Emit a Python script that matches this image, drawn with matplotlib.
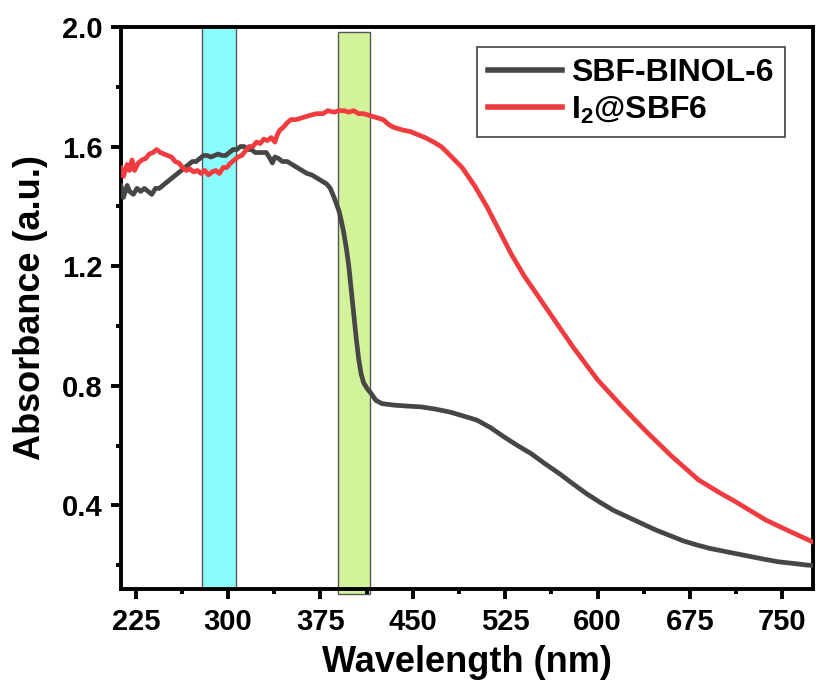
import numpy as np
import matplotlib.pyplot as plt
from matplotlib.patches import Rectangle
from matplotlib.ticker import MultipleLocator

plt.rcParams['font.family'] = ['Liberation Sans', 'DejaVu Sans']
plt.rcParams['font.weight'] = 'bold'
plt.rcParams['mathtext.fontset'] = 'custom'
plt.rcParams['mathtext.rm'] = 'Liberation Sans:bold'
plt.rcParams['mathtext.it'] = 'Liberation Sans:bold'
plt.rcParams['mathtext.bf'] = 'Liberation Sans:bold'

# Data
wl_binol = [210, 213, 215, 218, 220, 223, 226, 229, 232, 235, 238, 241, 244, 247, 250,
            253, 256, 259, 262, 265, 268, 271, 274, 277, 280, 283, 286, 289, 292, 295,
            298, 301, 304, 307, 310, 313, 316, 319, 322, 325, 328, 331, 334, 336, 338,
            341, 344, 348, 352, 356, 360, 364, 368, 372, 376, 380, 383, 386, 390, 392,
            394, 396, 398, 400, 402, 404, 406, 408, 410, 413, 416, 420, 425, 435, 445,
            457, 468, 480, 490, 502, 513, 524, 535, 546, 557, 569, 580, 591, 602, 613,
            625, 636, 647, 658, 669, 680, 691, 703, 714, 725, 736, 747, 760, 770, 780]
abs_binol = [1.44, 1.47, 1.43, 1.47, 1.45, 1.44, 1.46, 1.45, 1.46, 1.45, 1.44, 1.46, 1.46, 1.47, 1.48,
             1.49, 1.50, 1.51, 1.52, 1.53, 1.54, 1.55, 1.55, 1.56, 1.57, 1.57, 1.565, 1.57, 1.575, 1.57,
             1.57, 1.58, 1.59, 1.59, 1.60, 1.60, 1.59, 1.59, 1.58, 1.58, 1.58, 1.58, 1.56, 1.545, 1.565,
             1.56, 1.55, 1.55, 1.54, 1.53, 1.52, 1.51, 1.505, 1.495, 1.485, 1.475, 1.46, 1.43, 1.385, 1.35,
             1.31, 1.26, 1.20, 1.12, 1.04, 0.96, 0.89, 0.84, 0.81, 0.79, 0.775, 0.751, 0.74, 0.735, 0.732,
             0.729, 0.722, 0.712, 0.70, 0.685, 0.66, 0.629, 0.60, 0.573, 0.54, 0.506, 0.472, 0.439, 0.41, 0.383,
             0.36, 0.339, 0.318, 0.30, 0.282, 0.268, 0.256, 0.246, 0.237, 0.228, 0.219, 0.211, 0.205, 0.20, 0.198]

wl_i2 = [210, 213, 215, 218, 220, 222, 224, 227, 230, 233, 236, 239, 242, 245, 248,
         251, 254, 257, 260, 263, 266, 269, 272, 275, 278, 281, 284, 287, 290, 293,
         296, 299, 302, 305, 308, 311, 314, 317, 320, 323, 326, 329, 332, 335, 338,
         340, 342, 345, 348, 351, 355, 359, 363, 367, 372, 377, 381, 386, 390, 394,
         398, 402, 406, 410, 414, 418, 422, 426, 430, 434, 438, 442, 448, 454, 460,
         467, 473, 478, 484, 490, 495, 500, 510, 520, 530, 540, 550, 560, 570, 580,
         590, 600, 620, 640, 660, 682, 700, 710, 737, 755, 775, 780]
abs_i2 = [1.50, 1.53, 1.50, 1.54, 1.52, 1.555, 1.52, 1.545, 1.555, 1.56, 1.575, 1.58, 1.59, 1.58, 1.575,
          1.57, 1.565, 1.55, 1.545, 1.53, 1.52, 1.525, 1.515, 1.52, 1.51, 1.52, 1.505, 1.515, 1.52, 1.51,
          1.53, 1.53, 1.545, 1.555, 1.565, 1.57, 1.585, 1.60, 1.60, 1.615, 1.61, 1.625, 1.62, 1.63, 1.615,
          1.64, 1.655, 1.665, 1.68, 1.69, 1.69, 1.695, 1.70, 1.705, 1.71, 1.71, 1.72, 1.715, 1.72, 1.72,
          1.715, 1.72, 1.71, 1.71, 1.705, 1.70, 1.695, 1.69, 1.675, 1.665, 1.66, 1.655, 1.65, 1.64, 1.63,
          1.615, 1.60, 1.58, 1.555, 1.53, 1.50, 1.47, 1.40, 1.32, 1.24, 1.17, 1.11, 1.05, 0.99, 0.93,
          0.875, 0.82, 0.73, 0.645, 0.565, 0.485, 0.44, 0.417, 0.35, 0.315, 0.277, 0.27]

bands = [(279, 306, '#8afdfd'), (389, 415.5, '#d3f39b')]

fig = plt.figure(figsize=(8.17, 6.88), dpi=100)
ax = fig.add_axes([0.1481, 0.1439, 0.847, 0.8169])

# shaded windows
ax.add_patch(Rectangle((bands[0][0], 0.12), bands[0][1] - bands[0][0], 1.88,
                       facecolor=bands[0][2], edgecolor='#555555', lw=1.0, zorder=1))
ax.add_patch(Rectangle((bands[1][0], 0.102), bands[1][1] - bands[1][0], 1.882,
                       facecolor=bands[1][2], edgecolor='#555555', lw=1.0, zorder=1,
                       clip_on=False))

ax.plot(wl_binol, abs_binol, color='#464646', lw=3.4, label='SBF-BINOL-6', zorder=3)
ax.plot(wl_i2, abs_i2, color='#f03b3f', lw=3.4, label='I$_2$@SBF6', zorder=3)

ax.set_xlim(213, 775)
ax.set_ylim(0.12, 2.0)
ax.xaxis.set_major_locator(MultipleLocator(75))
ax.xaxis.set_minor_locator(MultipleLocator(37.5))
ax.yaxis.set_major_locator(MultipleLocator(0.4))
ax.yaxis.set_minor_locator(MultipleLocator(0.2))
ax.set_xticks(np.arange(225, 776, 75))

for s in ax.spines.values():
    s.set_linewidth(2.8)
ax.tick_params(which='major', direction='out', length=7, width=2.8, labelsize=21)
ax.tick_params(which='minor', direction='out', length=3.5, width=2.8)
ax.tick_params(axis='x', pad=7)
ax.tick_params(axis='y', pad=6)
for t in ax.get_xticklabels() + ax.get_yticklabels():
    t.set_fontweight('bold')

ax.set_xlabel('Wavelength (nm)', fontsize=26, fontweight='bold', labelpad=6)
ax.set_ylabel('Absorbance (a.u.)', fontsize=26, fontweight='bold', labelpad=10)

leg = ax.legend(loc='upper right', bbox_to_anchor=(0.9595, 0.9644), borderaxespad=0,
                fontsize=23, frameon=True, fancybox=False, handlelength=2.3,
                handletextpad=0.3, labelspacing=0.2, borderpad=0.35)
leg.get_frame().set_edgecolor('#222222')
leg.get_frame().set_linewidth(1.3)
for line in leg.get_lines():
    line.set_linewidth(4)

fig.savefig('out.png', dpi=100)
